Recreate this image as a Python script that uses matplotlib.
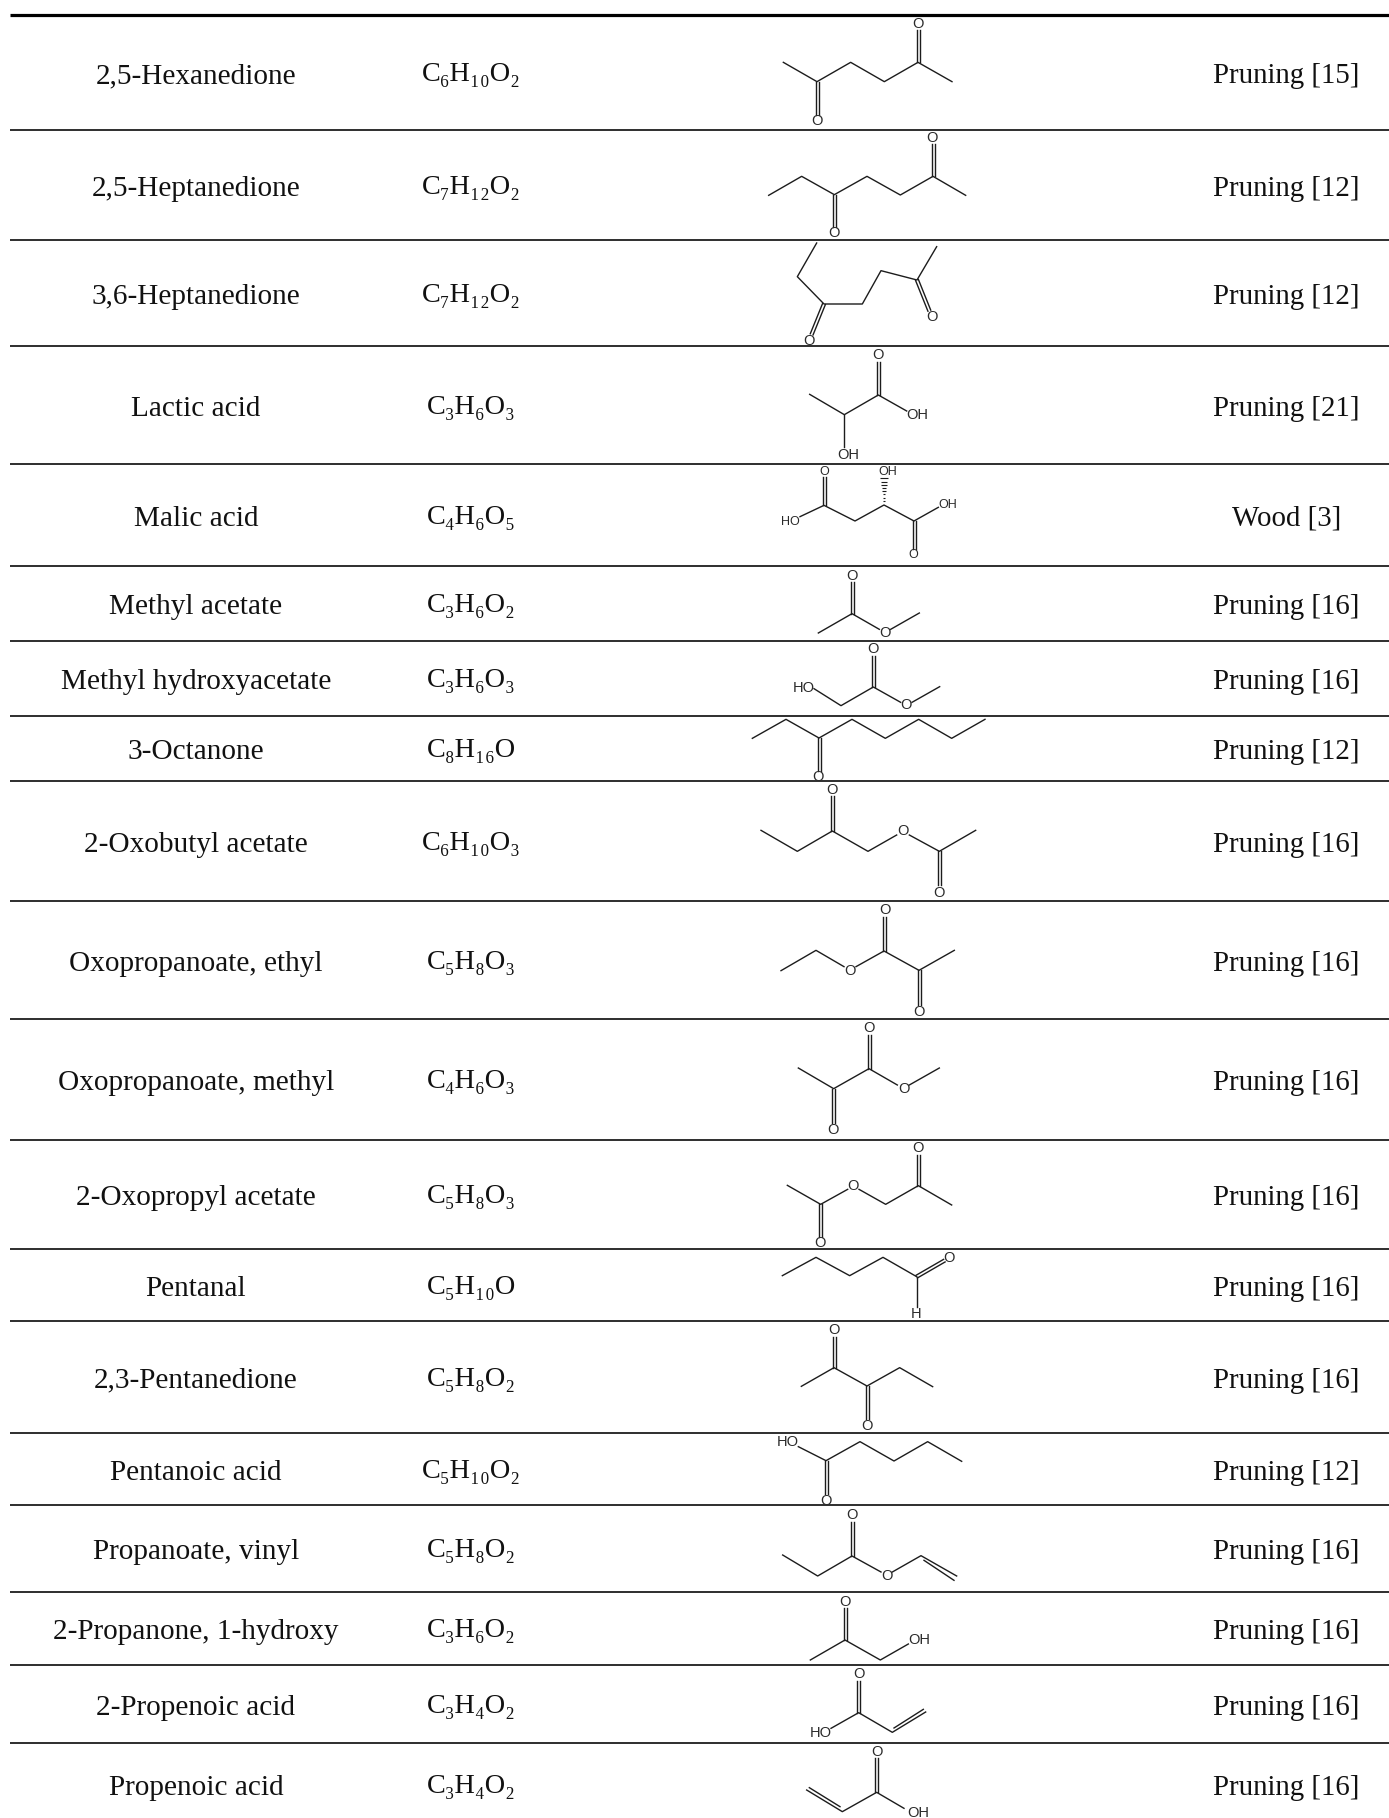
import matplotlib
matplotlib.use("Agg")
import matplotlib.pyplot as plt
import numpy as np

NAMES = ["2,5-Hexanedione", "2,5-Heptanedione", "3,6-Heptanedione", "Lactic acid", "Malic acid",
         "Methyl acetate", "Methyl hydroxyacetate", "3-Octanone", "2-Oxobutyl acetate",
         "Oxopropanoate, ethyl", "Oxopropanoate, methyl", "2-Oxopropyl acetate", "Pentanal",
         "2,3-Pentanedione", "Pentanoic acid", "Propanoate, vinyl", "2-Propanone, 1-hydroxy",
         "2-Propenoic acid", "Propenoic acid"]
FORMULAS = ["C₆H₁₀O₂", "C₇H₁₂O₂", "C₇H₁₂O₂", "C₃H₆O₃", "C₄H₆O₅", "C₃H₆O₂", "C₃H₆O₃", "C₈H₁₆O",
            "C₆H₁₀O₃", "C₅H₈O₃", "C₄H₆O₃", "C₅H₈O₃", "C₅H₁₀O", "C₅H₈O₂", "C₅H₁₀O₂", "C₅H₈O₂",
            "C₃H₆O₂", "C₃H₄O₂", "C₃H₄O₂"]
SOURCES = ["Pruning [15]", "Pruning [12]", "Pruning [12]", "Pruning [21]", "Wood [3]",
           "Pruning [16]", "Pruning [16]", "Pruning [12]", "Pruning [16]", "Pruning [16]",
           "Pruning [16]", "Pruning [16]", "Pruning [16]", "Pruning [16]", "Pruning [12]",
           "Pruning [16]", "Pruning [16]", "Pruning [16]", "Pruning [16]"]
ROW_EDGES = [14.5, 130, 240, 346, 464, 566, 641, 716, 781, 901, 1019, 1140, 1249, 1321, 1433,
             1505, 1592, 1665, 1743, 1826]

# Skeletal formulae: chains of single bonds, C=O style double
# bonds, offset double bonds (vinyl), and atom labels. Each is given in a local frame.
MOLECULES = [
 dict(at=(700, 0), chains=[[(250,187),(351,245),(452,187),(553,245),(654,187),(756,245)]],
      dbl=[((351,245),(351,345)), ((654,187),(654,90))], lab=[("O",351,364),("O",654,72)]),
 dict(at=(700, 0), chains=[[(206,586),(305,529),(403,584),(501,529),(601,585),(699,529),(797,586)]],
      dbl=[((403,584),(403,682)), ((699,529),(699,432))], lab=[("O",403,700),("O",697,415)]),
 dict(at=(700, 0), chains=[[(350,729),(292,830),(372,912),(487,912),(543,812),(651,840),(710,740)]],
      dbl=[((372,912),(335,1003)), ((651,840),(688,932))], lab=[("O",327,1022),("O",695,952)]),
 dict(at=(700, 0), chains=[[(329,1183),(433,1244),(535,1185),(620,1233)],[(433,1244),(433,1342)]],
      dbl=[((535,1185),(535,1085))], lab=[("O",535,1066),("OH",652,1246),("OH",446,1366)]),
 dict(at=(700, 450), chains=[[(300,200),(372,166),(465,213),(552,165),(642,213),(715,172)]],
      dbl=[((372,166),(372,82)), ((642,213),(642,298))],
      lab=[("O",372,67),("O",641,315),("HO",271,216),("OH",743,165),("OH",564,66)],
      hash=[((552,165),(552,85))], small=True),
 dict(at=(700, 450), chains=[[(355,549),(456,491),(538,538)],[(572,538),(658,489)]],
      dbl=[((456,491),(456,395))], lab=[("O",456,377),("O",555,549)]),
 dict(at=(700, 450), chains=[[(342,716),(423,767),(520,711),(602,757)],[(636,757),(719,710)]],
      dbl=[((520,711),(520,617))], lab=[("O",520,598),("HO",310,713),("O",619,766)]),
 dict(at=(700, 450), chains=[[(157,865),(258,808),(357,864),(456,808),(556,865),(656,808),(755,865),(855,808)]],
      dbl=[((357,864),(357,962))], lab=[("O",355,980)]),
 dict(at=(700, 450), chains=[[(183,1141),(292,1204),(397,1143),(504,1204),(590,1155)],[(628,1155),(718,1204),(827,1141)]],
      dbl=[((397,1143),(397,1038)), ((718,1204),(718,1305))], lab=[("O",397,1021),("O",717,1330),("O",610,1143)]),
 dict(at=(700, 890), chains=[[(243,242),(348,181),(432,230)],[(468,230),(552,183),(657,241),(763,181)]],
      dbl=[((552,183),(552,80)), ((657,241),(657,345))], lab=[("O",554,61),("O",657,366),("O",450,243)]),
 dict(at=(700, 890), chains=[[(295,534),(401,596),(507,536),(592,585)],[(628,585),(718,534)]],
      dbl=[((401,596),(401,700)), ((507,536),(507,435))], lab=[("O",400,720),("O",507,415),("O",611,597)]),
 dict(at=(700, 890), chains=[[(262,886),(362,943),(443,898)],[(477,898),(557,943),(655,887),(755,945)]],
      dbl=[((362,943),(362,1040)), ((655,887),(655,795))], lab=[("O",360,1060),("O",655,775),("O",459,889)]),
 dict(at=(700, 890), chains=[[(247,1157),(348,1102),(449,1157),(549,1102),(650,1160)],[(650,1160),(650,1250)]],
      dbl=[((650,1160),(733,1112))], lab=[("H",648,1271),("O",748,1103)]),
 dict(at=(700, 1330), chains=[[(304,169),(402,113),(501,168),(599,113),(698,170)]],
      dbl=[((402,113),(402,20)), ((501,168),(501,268))], lab=[("O",402,-1),("O",500,287)]),
 dict(at=(700, 1330), chains=[[(295,350),(378,392),(480,335),(582,393),(683,335),(785,394)]],
      dbl=[((378,392),(378,492))], lab=[("HO",262,337),("O",377,512)]),
 dict(at=(700, 1330), chains=[[(248,675),(353,738),(456,678),(543,726)],[(577,726),(663,677),(770,738)]],
      dbl=[((456,678),(456,575))], off=[((672,691),(762,751))], lab=[("O",456,555),("O",561,738)]),
 dict(at=(700, 1330), chains=[[(331,990),(435,930),(541,990),(625,942)]],
      dbl=[((435,930),(435,833))], lab=[("O",435,815),("OH",657,931)]),
 dict(at=(700, 1330), chains=[[(393,1195),(476,1148),(577,1207),(677,1146)]],
      dbl=[((476,1148),(476,1052))], off=[((582,1194),(670,1138))], lab=[("HO",361,1210),("O",476,1033)]),
 dict(at=(700, 1330), chains=[[(320,1380),(427,1445),(530,1387),(612,1435)]],
      dbl=[((530,1387),(530,1285))], off=[((328,1373),(420,1430))], lab=[("O",532,1267),("OH",654,1448)]),
]

SERIF = ["Liberation Serif", "DejaVu Serif"]
INK = "#111111"
BOND = "#1c1c1c"
W, H = 1389, 1818

fig = plt.figure(figsize=(W / 100, H / 100), dpi=100)
ax = fig.add_axes([0, 0, 1, 1])
ax.set_xlim(0, W)
ax.set_ylim(H, 0)
ax.axis("off")

for i, y in enumerate(ROW_EDGES[:-1]):
    ax.plot([9.5, W], [y, y], color="black", lw=2.3 if i == 0 else 1.15, solid_capstyle="butt", zorder=3)

for i, (n, f, s) in enumerate(zip(NAMES, FORMULAS, SOURCES)):
    yc = (ROW_EDGES[i] + ROW_EDGES[i + 1]) / 2 + 0.8
    ax.text(196, yc, n, ha="center", va="center_baseline", family=SERIF, fontsize=21.1, color=INK)
    ax.text(471.5, yc - 1.5, f, ha="center", va="center_baseline", family=SERIF, fontsize=20.3, color=INK)
    ax.text(1286.5, yc, s, ha="center", va="center_baseline", family=SERIF, fontsize=20.8, color=INK)

def to_px(mol, p):
    return mol["at"][0] + p[0] / 3, mol["at"][1] + p[1] / 3

for m in MOLECULES:
    for chain in m["chains"]:
        xy = np.array([to_px(m, p) for p in chain])
        ax.plot(xy[:, 0], xy[:, 1], color=BOND, lw=1.0, solid_joinstyle="round", zorder=4)
    for a, b in m["dbl"]:
        a, b = np.array(to_px(m, a)), np.array(to_px(m, b))
        d = (b - a) / np.hypot(*(b - a))
        nrm = np.array([-d[1], d[0]]) * 1.5
        for sgn in (-1, 1):
            ax.plot([a[0] + sgn * nrm[0], b[0] + sgn * nrm[0]], [a[1] + sgn * nrm[1], b[1] + sgn * nrm[1]],
                    color=BOND, lw=1.0, zorder=4)
    for a, b in m.get("off", []):
        a, b = to_px(m, a), to_px(m, b)
        ax.plot([a[0], b[0]], [a[1], b[1]], color=BOND, lw=1.0, zorder=4)
    for a, b in m.get("hash", []):
        a, b = np.array(to_px(m, a)), np.array(to_px(m, b))
        for t in np.linspace(0.04, 1, 9):
            c = a + (b - a) * t
            hw = 3.6 * t
            ax.plot([c[0] - hw, c[0] + hw], [c[1], c[1]], color=BOND, lw=0.8, solid_capstyle="butt", zorder=4)
    fs = 9.0 if m.get("small") else 10.5
    for t, x, y in m["lab"]:
        px, py = to_px(m, (x, y))
        ax.text(px, py, t, ha="center", va="center", family="Liberation Sans", fontsize=fs, color="#2a2a2a", zorder=5)

fig.savefig("out.png", dpi=100, facecolor="white")
